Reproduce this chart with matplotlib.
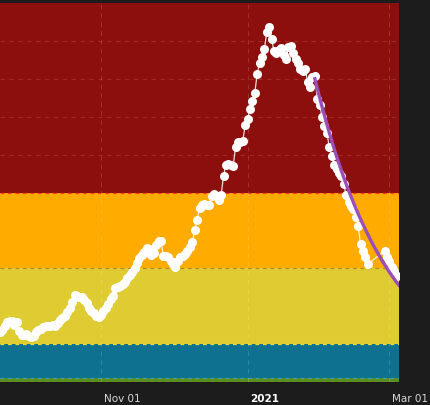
import datetime as dt
import matplotlib
matplotlib.use('Agg')
import matplotlib.pyplot as plt
import matplotlib.dates as mdates
import matplotlib.transforms as mtrans

# daily values (days since 2020-09-20); a few days missing near the end
start = dt.date(2020, 9, 20)
days = list(range(0, 154)) + list(range(160, 166))
values = [
    13.2, 13.7, 14.8, 15.8, 16.1, 16.1, 15.0, 15.8, 13.5, 12.4,
    12.4, 12.7, 12.1, 11.9, 12.1, 13.2, 13.7, 14.0, 14.5, 14.8,
    14.8, 14.8, 15.0, 14.8, 15.6, 16.4, 16.9, 17.4, 18.5, 19.5,
    21.1, 23.0, 22.7, 22.4, 22.4, 21.6, 20.8, 19.5, 18.7, 18.2,
    17.4, 17.2, 17.7, 18.7, 19.5, 20.6, 21.9, 22.7, 24.8, 25.1,
    25.3, 25.9, 26.4, 27.4, 28.2, 29.0, 30.1, 31.4, 32.7, 33.5,
    34.3, 35.4, 35.1, 33.5, 34.0, 36.1, 37.2, 37.2, 33.2, 33.2,
    33.0, 31.9, 31.1, 30.3, 31.9, 33.0, 33.2, 33.8, 34.6, 35.6,
    36.9, 40.1, 42.7, 45.9, 46.7, 47.0, 46.7, 46.7, 49.1, 49.6,
    49.1, 48.0, 49.3, 54.4, 57.3, 57.5, 57.3, 57.0, 62.0, 63.3,
    63.3, 63.6, 67.8, 69.4, 72.0, 74.1, 76.3, 81.3, 84.2, 85.8,
    87.9, 92.3, 93.7, 90.5, 87.3, 86.8, 87.6, 88.1, 86.3, 85.2,
    88.4, 88.7, 86.8, 85.2, 84.2, 82.6, 82.1, 82.6, 79.2, 77.8,
    80.5, 80.7, 74.7, 73.1, 69.9, 67.5, 65.7, 62.0, 59.6, 57.3,
    56.2, 55.1, 54.4, 52.2, 49.3, 47.5, 46.4, 45.6, 43.5, 41.2,
    36.4, 34.6, 33.0, 31.1,
    34.6, 33.0, 31.9, 30.3, 29.3, 28.0,
]

# projection line
proj_days = list(range(131, 167))
proj_values = [
    80.0, 77.5, 75.0, 72.6, 70.3, 68.0, 65.8, 63.7, 61.6, 59.6,
    57.7, 55.8, 54.0, 52.3, 50.6, 49.0, 47.4, 45.9, 44.4, 43.0,
    41.6, 40.3, 39.0, 37.7, 36.5, 35.3, 34.2, 33.1, 32.0, 31.0,
    30.0, 29.0, 28.1, 27.2, 26.3, 25.5,
]

# risk bands (lower, upper, colour, edge line colour)
band_edges = [0, 1, 10, 30, 50, 100]
band_colors = ['#5b8c1e', '#0e718f', '#dfcc32', '#ffab00', '#8c0e0d']
edge_colors = ['#9be02a', '#3aa3b4', '#e8dc3a', '#b98a2a', '#ff3a2a']

tick_dates = [dt.date(2020, 11, 1), dt.date(2021, 1, 1), dt.date(2021, 3, 1)]
tick_labels = ['Nov 01', '2021', 'Mar 01']

dates = [start + dt.timedelta(days=d) for d in days]
proj_dates = [start + dt.timedelta(days=d) for d in proj_days]

fig = plt.figure(figsize=(4.30, 4.06), dpi=100)
fig.patch.set_facecolor('#1c1c1c')
ax = fig.add_axes([0, 1 - 383 / 406, 399 / 430, 379 / 406])
ax.set_facecolor('#1c1c1c')

for i, c in enumerate(band_colors):
    ax.axhspan(band_edges[i], band_edges[i + 1], color=c, lw=0, zorder=0)
for i, c in enumerate(edge_colors):
    ax.axhline(band_edges[i], color=c, lw=0.9, ls=(0, (3, 3)), zorder=1)

for y in [60, 70, 80, 90]:
    ax.axhline(y, color='#b23a30', lw=0.8, ls=(0, (4, 4)), alpha=0.6, zorder=1)
for d in tick_dates:
    ax.axvline(d, color='white', lw=0.8, ls=(0, (4, 4)), alpha=0.15, zorder=1)

ax.plot(dates, values, color='white', lw=0.9, alpha=0.85, zorder=3)
ax.plot(dates, values, 'o', color='white', ms=6.5, mec='none', zorder=4)
ax.plot(proj_dates, proj_values, color='#9b4db8', lw=2.4, zorder=5)

ax.set_xlim(start, dt.date(2021, 3, 5))
ax.set_ylim(0, 100)
ax.set_yticks([])
ax.set_xticks(tick_dates)
ax.set_xticklabels(tick_labels)
ax.tick_params(axis='x', length=0, pad=8, labelsize=7.5, labelcolor='#d8d8d8')
offset = mtrans.ScaledTranslation(3 / 100, 0, fig.dpi_scale_trans)
for lab in ax.get_xticklabels():
    lab.set_horizontalalignment('left')
    lab.set_transform(lab.get_transform() + offset)
ax.get_xticklabels()[1].set_fontweight('bold')
ax.get_xticklabels()[1].set_color('white')
for s in ax.spines.values():
    s.set_visible(False)

plt.savefig('out.png', dpi=100, facecolor=fig.get_facecolor())
